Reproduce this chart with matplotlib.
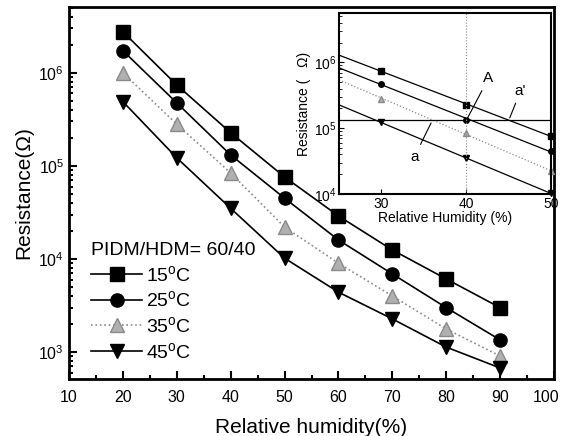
import numpy as np
import matplotlib
matplotlib.use("Agg")
import matplotlib.pyplot as plt
import matplotlib.transforms as mtransforms

plt.rcParams["font.family"] = ["Liberation Sans", "DejaVu Sans"]
plt.rcParams["mathtext.fontset"] = "custom"
plt.rcParams["mathtext.rm"] = "Liberation Sans"
plt.rcParams["mathtext.it"] = "Liberation Sans:italic"

# -------------------------------------------------------
# Data
# -------------------------------------------------------
humidity = [20, 30, 40, 50, 60, 70, 80, 90]
r15 = [2.76e6, 7.4e5, 2.27e5, 7.6e4, 2.9e4, 1.25e4, 6.1e3, 3.0e3]
r25 = [1.73e6, 4.75e5, 1.31e5, 4.5e4, 1.6e4, 6.9e3, 3.0e3, 1.35e3]
r35 = [1.0e6, 2.8e5, 8.4e4, 2.2e4, 9.0e3, 4.0e3, 1.77e3, 906]
r45 = [4.9e5, 1.22e5, 3.5e4, 1.02e4, 4.4e3, 2.27e3, 1.13e3, 674]
labels = ["15$^\\mathrm{o}$C", "25$^\\mathrm{o}$C", "35$^\\mathrm{o}$C", "45$^\\mathrm{o}$C"]
series = [r15, r25, r35, r45]

# style per series
markers = ["s", "o", "^", "v"]
face = ["black", "black", "#b0b0b0", "black"]
edge = ["black", "black", "#8a8a8a", "black"]
lcol = ["black", "black", "#8a8a8a", "black"]
lsty = ["-", "-", ":", "-"]

fig = plt.figure(figsize=(5.63, 4.36), dpi=100)

# ── Main plot ─────────────────────────────────────────
ax = fig.add_axes([0.1226, 0.1307, 0.8614, 0.8533])
for ys, lab, m, fc, ec, lc, ls in zip(series, labels, markers, face, edge, lcol, lsty):
    ax.plot(humidity, ys, ls=ls, color=lc, lw=1.2, marker=m, ms=9.5,
            mfc=fc, mec=ec, label=lab)
ax.set_yscale("log")
ax.set_xlim(10, 100)
ax.set_ylim(513, 5.1e6)
ax.set_xticks(range(10, 101, 10))
ax.set_xticks(range(15, 100, 10), minor=True)
ax.tick_params(which="both", direction="in", labelsize=11.5, width=1.5)
ax.tick_params(which="major", length=6)
ax.tick_params(which="minor", length=3)
ax.tick_params(axis="x", pad=8)
for s in ax.spines.values():
    s.set_linewidth(2)
ax.set_xlabel("Relative humidity(%)", fontsize=15, labelpad=9)
ax.set_ylabel("Resistance(Ω)", fontsize=15, labelpad=4)

# last x label sits a little left of its tick, as in the original
last = ax.get_xticklabels()[-1]
last.set_transform(last.get_transform() +
                   mtransforms.ScaledTranslation(-8 / 100, 0, fig.dpi_scale_trans))

leg = ax.legend(title="PIDM/HDM= 60/40", loc="upper left", bbox_to_anchor=(0.03, 0.39),
                frameon=False, fontsize=14, title_fontsize=14, handlelength=2.6,
                handletextpad=0.2, labelspacing=0.3, borderaxespad=0)
leg._legend_box.align = "left"

# ── Inset ─────────────────────────────────────────────
ins = fig.add_axes([0.602, 0.555, 0.377, 0.415])
hx = np.array([25, 50])
for ys, m, fc, ec, lc, ls in zip(series, markers, face, edge, lcol, lsty):
    xs = np.array(humidity[1:4])
    fit = np.polyfit(xs, np.log10(ys[1:4]), 1)
    ins.plot(hx, 10 ** np.polyval(fit, hx), ls=ls, color=lc, lw=0.9)
    ins.plot(xs, ys[1:4], ls="none", marker=m, ms=4, mfc=fc, mec=ec, clip_on=False)
h_level = r25[2]
ins.axhline(h_level, color="black", lw=0.9)
ins.axvline(40, color="#888888", lw=0.8, ls=":")
ins.set_yscale("log")
ins.set_xlim(25, 50)
ins.set_ylim(1e4, 5.6e6)
ins.set_xticks([30, 40, 50])
ins.tick_params(which="both", direction="in", labelsize=10, pad=2)
for s in ins.spines.values():
    s.set_linewidth(1.5)
ins.set_xlabel("Relative Humidity (%)", fontsize=10, labelpad=0)
ins.set_ylabel("Resistance (   Ω)", fontsize=10, labelpad=2)

arrow = dict(arrowstyle="-", color="black", lw=0.8)
ins.annotate("A", xy=(40, h_level), xytext=(42.6, 5.7e5), fontsize=11,
             ha="center", va="center", arrowprops=arrow)
ins.annotate("a'", xy=(45, h_level), xytext=(46.4, 3.7e5), fontsize=11,
             ha="center", va="center", arrowprops=arrow)
ins.annotate("a", xy=(36, h_level), xytext=(33.9, 3.7e4), fontsize=11,
             ha="center", va="center", arrowprops=arrow)

plt.savefig("out.png", dpi=100)
